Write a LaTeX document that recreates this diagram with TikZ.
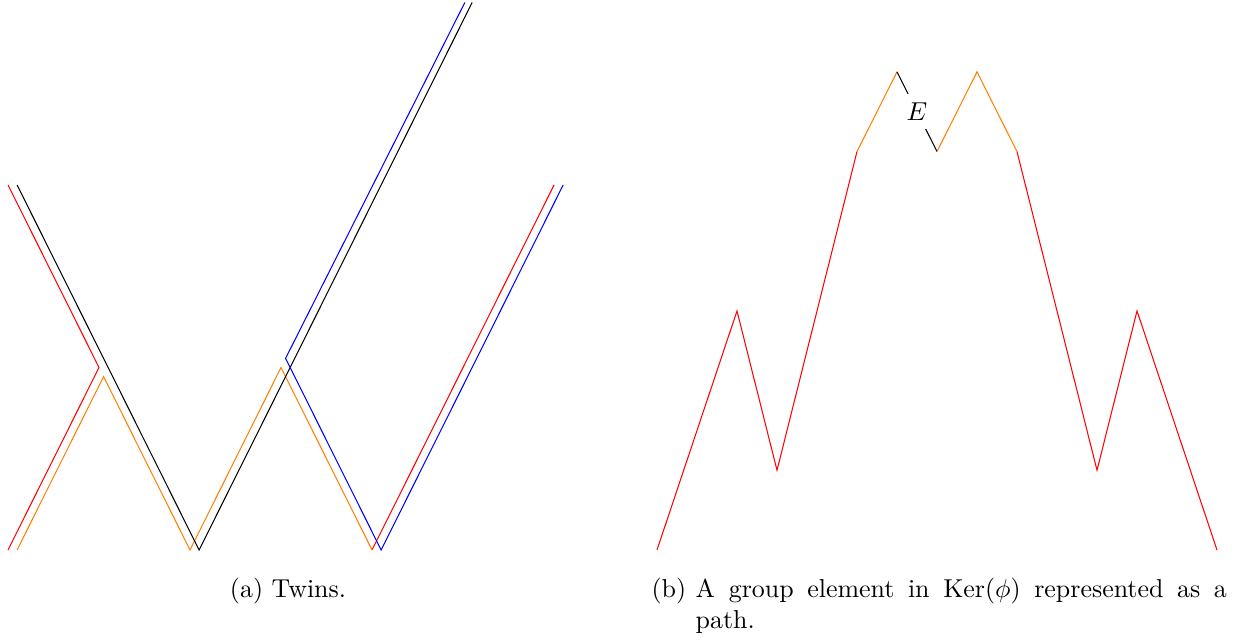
\documentclass[tikz,border=0pt]{standalone}
\usetikzlibrary{positioning}
\tikzset{
  every picture/.style={line width=0.4pt},
  captext/.style={inner sep=0pt, font=\normalsize},
  label E/.style={fill=white, inner sep=0.333em},
}
\begin{document}
\begin{tikzpicture}[x=0.386pt, y=-0.386pt]
  \useasboundingbox (0,0) rectangle (1239,643);
  % (a) the twins
  \begin{scope}[shift={(8,550)}, x=35.13pt, y=70.45pt]
    \draw[red] (0,2) -- (1,1) -- (0,0);
    \draw[red] (4,0) -- (6,2);
    \draw[orange] (0.1,0) -- (1.05,0.95) -- (2,0) -- (3,1) -- (4,0);
    \draw[black] (0.1,2) -- (2.1,0) -- (5.1,3);
    \draw[blue] (5.02,3) -- (3.05,1.05) -- (4.1,0) -- (6.1,2);
  \end{scope}
  % (b) the path of a kernel element
  \begin{scope}[shift={(657,550)}, x=15.44pt, y=30.76pt]
    \draw[red] (0,0) -- (2,3) -- (3,1) -- (5,5);
    \draw[orange] (5,5) -- (6,6);
    \draw (6,6) -- node[label E] (e) {$E$} (7,5);
    \draw[orange] (7,5) -- (8,6) -- (9,5);
    \draw[red] (9,5) -- (11,1) -- (12,3) -- (14,0);
  \end{scope}
  % captions
  \node[captext, anchor=base] (capa) at (288,597) {(a) Twins.};
  \node[captext, anchor=base west] (capb) at (651,597) {(b)};
  \node[captext, anchor=north west, text width=205pt, align=justify] (capbtext)
    at ([xshift=3.33pt]capb.north east)
    {A group element in Ker$(\phi)$ represented as a\linebreak path.};
\end{tikzpicture}
\end{document}
